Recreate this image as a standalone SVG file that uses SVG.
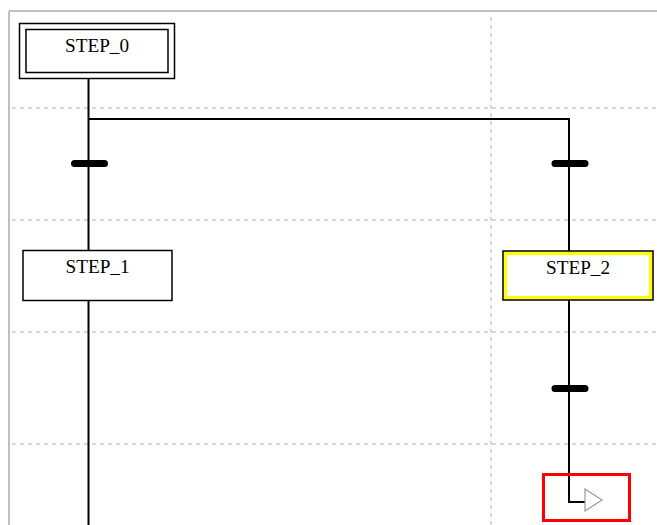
<svg xmlns="http://www.w3.org/2000/svg" width="657" height="525" viewBox="0 0 657 525">
<style>
.grid{stroke:#cccccc;stroke-width:1.5;stroke-dasharray:4 4;fill:none}
.frame{stroke:#c0c0c0;stroke-width:2;fill:none}
.box{fill:#ffffff;stroke:#000000;stroke-width:1.5}
.wire{stroke:#000000;stroke-width:2;fill:none}
.bar{fill:#000000}
.lbl{font-family:"Liberation Serif","Times New Roman",serif;font-size:18px;fill:#000000;text-anchor:middle}
</style>
<rect x="0" y="0" width="657" height="525" fill="#ffffff"/>
<g id="grid">
<line class="frame" x1="9" y1="11" x2="657" y2="11"/>
<line class="frame" x1="9" y1="11" x2="9" y2="525"/>
<line class="grid" x1="12" y1="108" x2="657" y2="108"/>
<line class="grid" x1="12" y1="220" x2="657" y2="220"/>
<line class="grid" x1="12" y1="332" x2="657" y2="332"/>
<line class="grid" x1="12" y1="444" x2="657" y2="444"/>
<line class="grid" x1="491" y1="17" x2="491" y2="525"/>
</g>
<g id="connectors">
<line class="wire" x1="88.5" y1="79" x2="88.5" y2="525"/>
<polyline class="wire" points="88.5,119 569,119 569,251"/>
<polyline class="wire" points="569,300 569,502 585,502"/>
<rect class="bar" x="71" y="160" width="37" height="7" rx="3.5"/>
<rect class="bar" x="551.5" y="160" width="37" height="7" rx="3.5"/>
<rect class="bar" x="551.5" y="385" width="37" height="7" rx="3.5"/>
<polygon points="585,489 602,500 585,511" fill="#ffffff" stroke="#999999" stroke-width="1.2"/>
</g>
<g id="STEP_0">
<rect class="box" x="19.5" y="23.5" width="155" height="55"/>
<rect class="box" x="26" y="29.5" width="142" height="43"/>
<text class="lbl" x="97" y="52" textLength="64" lengthAdjust="spacingAndGlyphs">STEP_0</text>
</g>
<g id="STEP_1">
<rect class="box" x="23" y="250.5" width="149" height="50"/>
<text class="lbl" x="97.5" y="273" textLength="64" lengthAdjust="spacingAndGlyphs">STEP_1</text>
</g>
<g id="STEP_2">
<rect class="box" x="503" y="251" width="150" height="49"/>
<rect x="505.5" y="253.5" width="145" height="44" fill="none" stroke="#ffff00" stroke-width="3"/>
<text class="lbl" x="578" y="274" textLength="64" lengthAdjust="spacingAndGlyphs">STEP_2</text>
</g>
<g id="selection">
<rect x="543.5" y="474.5" width="86" height="46" fill="none" stroke="#ff0000" stroke-width="3"/>
</g>
</svg>
